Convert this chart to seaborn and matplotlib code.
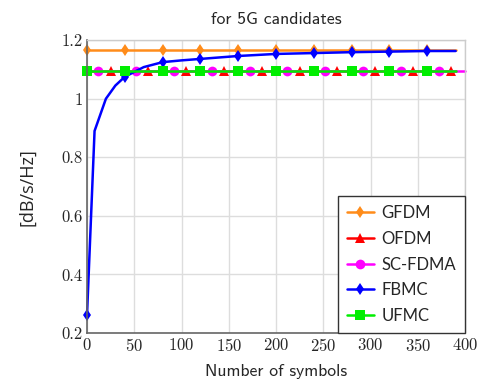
import matplotlib
matplotlib.use("Agg")
import matplotlib.pyplot as plt
import seaborn as sns

# series data
gfdm_x = [0, 40, 80, 120, 160, 200, 240, 280, 320, 360, 390]
gfdm_y = [1.168, 1.168, 1.168, 1.168, 1.168, 1.168, 1.168, 1.168, 1.168, 1.168, 1.168]

ofdm_x = [0, 25, 65, 105, 145, 185, 225, 265, 305, 345, 385, 390]
ofdm_y = [1.095, 1.095, 1.095, 1.095, 1.095, 1.095, 1.095, 1.095, 1.095, 1.095, 1.095, 1.095]

scfdma_x = [0, 12, 52, 92, 132, 172, 212, 252, 292, 332, 372, 400]
scfdma_y = [1.095, 1.095, 1.095, 1.095, 1.095, 1.095, 1.095, 1.095, 1.095, 1.095, 1.095, 1.095]

fbmc_x = [0, 8, 20, 30, 40, 60, 80, 100, 120, 160, 200, 240, 280, 320, 360, 390]
fbmc_y = [0.26, 0.89, 1.0, 1.045, 1.075, 1.108, 1.125, 1.131, 1.136, 1.146, 1.153, 1.156, 1.159, 1.161, 1.163, 1.163]
fbmc_marks = [0, 4, 6, 8, 9, 10, 11, 12, 13, 14]

ufmc_x = [0, 40, 80, 120, 160, 200, 240, 280, 320, 360, 390]
ufmc_y = [1.095, 1.095, 1.095, 1.095, 1.095, 1.095, 1.095, 1.095, 1.095, 1.095, 1.095]

x_ticks = [0, 50, 100, 150, 200, 250, 300, 350, 400]
y_ticks = [0.2, 0.4, 0.6, 0.8, 1.0, 1.2]
y_tick_labels = ["0.2", "0.4", "0.6", "0.8", "1", "1.2"]

sns.set_style("whitegrid")
plt.rcParams['axes.formatter.use_mathtext'] = True

fig = plt.figure(figsize=(4.86, 3.9), dpi=100)
ax = fig.add_axes([0.179, 0.146, 0.778, 0.751])

series = [
    ("GFDM", gfdm_x, gfdm_y, "#ff8c1a", "d", list(range(0, 10)), 6.5),
    ("OFDM", ofdm_x, ofdm_y, "#ff0000", "^", list(range(1, 11)), 7),
    ("SC-FDMA", scfdma_x, scfdma_y, "#ff00ff", "o", list(range(1, 11)), 7),
    ("FBMC", fbmc_x, fbmc_y, "#0000ff", "d", fbmc_marks, 6.5),
    ("UFMC", ufmc_x, ufmc_y, "#00ee00", "s", list(range(0, 10)), 6.5),
]

for name, xs, ys, col, mk, marks, ms in series:
    sns.lineplot(x=xs, y=ys, ax=ax, color=col, marker=mk, markevery=marks,
                 markersize=ms, markeredgewidth=0, linewidth=1.8,
                 label=name, clip_on=False)

ax.set_xlim(0, 400)
ax.set_ylim(0.2, 1.2)
ax.set_xticks(x_ticks)
ax.set_yticks(y_ticks)
ax.set_yticklabels(y_tick_labels)
ax.tick_params(axis='both', direction='in', length=3, color='#555555',
               labelsize=12, pad=3)
for lab in ax.get_xticklabels() + ax.get_yticklabels():
    lab.set_fontfamily('cmr10')

ax.grid(True, color='#dddddd', linewidth=1)
for side in ['left', 'bottom']:
    ax.spines[side].set_color('#666666')
    ax.spines[side].set_linewidth(1.2)
for side in ['top', 'right']:
    ax.spines[side].set_color('#cccccc')
    ax.spines[side].set_linewidth(1.0)

ax.set_title("for 5G candidates", fontfamily='cmss10', fontsize=12.8, pad=12)
ax.set_xlabel("Number of symbols", fontfamily='cmss10', fontsize=12.7, labelpad=7)
ax.set_ylabel("[dB/s/Hz]", fontfamily='Open Sans', fontsize=13, labelpad=18)

leg = ax.legend(loc='lower right', borderaxespad=0,
                prop={'family': 'Lato', 'size': 12}, fancybox=False,
                framealpha=1, edgecolor='#333333', handlelength=1.6,
                labelspacing=0.58, borderpad=0.55, handletextpad=0.45)
leg.get_frame().set_linewidth(1.0)

plt.savefig("out.png", dpi=100)
